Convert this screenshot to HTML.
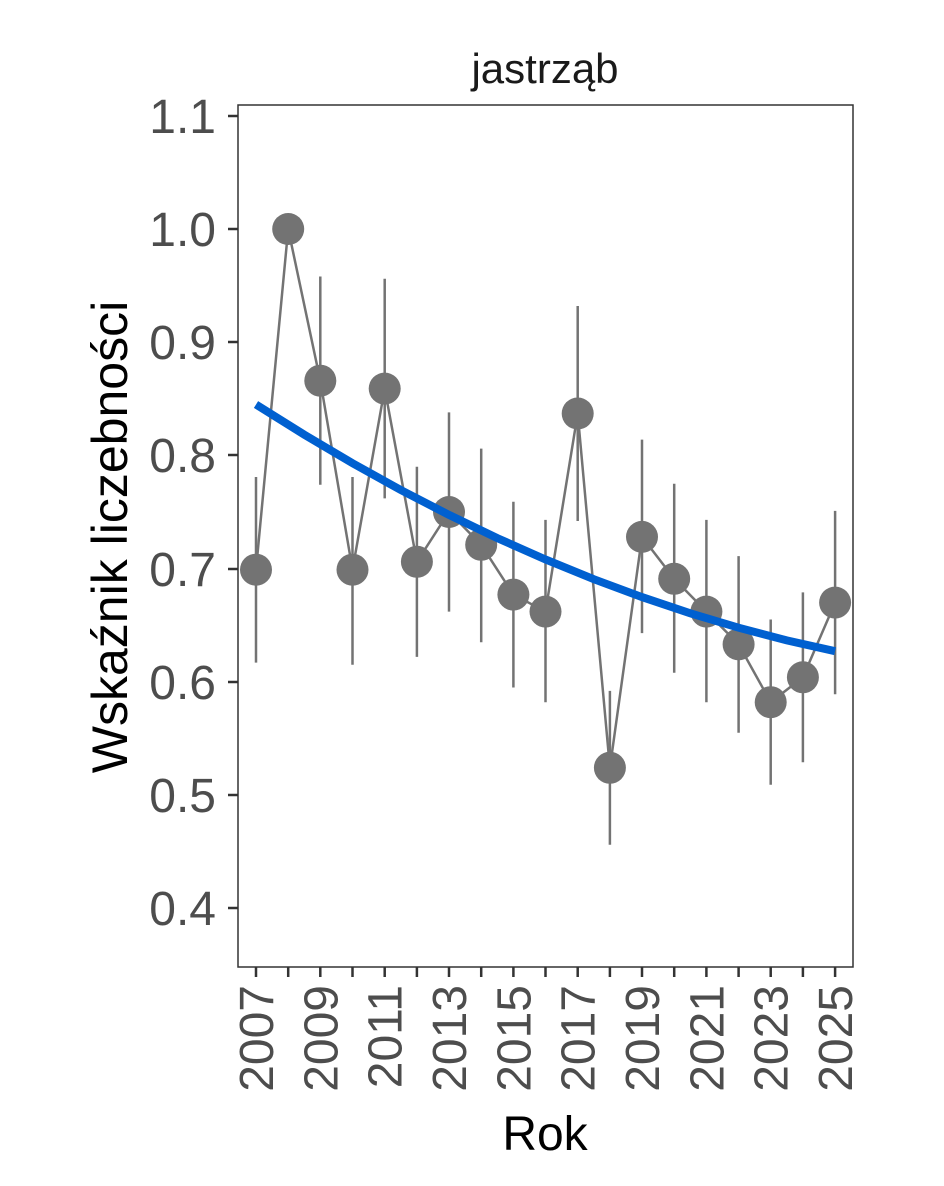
<!DOCTYPE html>
<html><head><meta charset="utf-8"><style>body{margin:0;background:#fff}</style></head><body>
<svg width="944" height="1181" xmlns="http://www.w3.org/2000/svg" font-family="Liberation Sans, Arial, sans-serif">
<rect width="944" height="1181" fill="#fff"/>
<text x="545" y="83" font-size="42" text-anchor="middle" fill="#1a1a1a">jastrząb</text>
<rect x="238" y="105" width="615" height="862" fill="none" stroke="#333" stroke-width="1.5"/>
<g stroke="#333" stroke-width="2.5">
<line x1="228" y1="116" x2="238" y2="116"/><line x1="228" y1="229" x2="238" y2="229"/><line x1="228" y1="342" x2="238" y2="342"/><line x1="228" y1="455" x2="238" y2="455"/><line x1="228" y1="569" x2="238" y2="569"/><line x1="228" y1="682" x2="238" y2="682"/><line x1="228" y1="795" x2="238" y2="795"/><line x1="228" y1="908" x2="238" y2="908"/>
<line x1="256" y1="967" x2="256" y2="977"/><line x1="288.2" y1="967" x2="288.2" y2="977"/><line x1="320.3" y1="967" x2="320.3" y2="977"/><line x1="352.5" y1="967" x2="352.5" y2="977"/><line x1="384.7" y1="967" x2="384.7" y2="977"/><line x1="416.9" y1="967" x2="416.9" y2="977"/><line x1="449" y1="967" x2="449" y2="977"/><line x1="481.2" y1="967" x2="481.2" y2="977"/><line x1="513.4" y1="967" x2="513.4" y2="977"/><line x1="545.5" y1="967" x2="545.5" y2="977"/><line x1="577.7" y1="967" x2="577.7" y2="977"/><line x1="609.9" y1="967" x2="609.9" y2="977"/><line x1="642" y1="967" x2="642" y2="977"/><line x1="674.2" y1="967" x2="674.2" y2="977"/><line x1="706.4" y1="967" x2="706.4" y2="977"/><line x1="738.6" y1="967" x2="738.6" y2="977"/><line x1="770.7" y1="967" x2="770.7" y2="977"/><line x1="802.9" y1="967" x2="802.9" y2="977"/><line x1="835.1" y1="967" x2="835.1" y2="977"/>
</g>
<g font-size="48" fill="#4d4d4d" text-anchor="end">
<text x="216" y="133">1.1</text><text x="216" y="246">1.0</text><text x="216" y="359">0.9</text><text x="216" y="472">0.8</text><text x="216" y="586">0.7</text><text x="216" y="699">0.6</text><text x="216" y="812">0.5</text><text x="216" y="925">0.4</text>
</g>
<g font-size="48" fill="#4d4d4d" text-anchor="end">
<text transform="translate(273,985) rotate(-90)">2007</text>
<text transform="translate(337.3,985) rotate(-90)">2009</text>
<text transform="translate(401.7,985) rotate(-90)">2011</text>
<text transform="translate(466,985) rotate(-90)">2013</text>
<text transform="translate(530.4,985) rotate(-90)">2015</text>
<text transform="translate(594.7,985) rotate(-90)">2017</text>
<text transform="translate(659,985) rotate(-90)">2019</text>
<text transform="translate(723.4,985) rotate(-90)">2021</text>
<text transform="translate(787.7,985) rotate(-90)">2023</text>
<text transform="translate(852.1,985) rotate(-90)">2025</text>
</g>
<text x="545" y="1150" font-size="48" text-anchor="middle" fill="#000">Rok</text>
<text transform="translate(127,537) rotate(-90)" font-size="50" text-anchor="middle" fill="#000">Wskaźnik liczebności</text>
<g stroke="#737373" stroke-width="2.5">
<line x1="256" y1="477" x2="256" y2="662.6"/>
<line x1="320.3" y1="276.5" x2="320.3" y2="484.8"/>
<line x1="352.5" y1="477" x2="352.5" y2="664.8"/>
<line x1="384.7" y1="278.8" x2="384.7" y2="498.4"/>
<line x1="416.9" y1="466.7" x2="416.9" y2="656.9"/>
<line x1="449" y1="412.4" x2="449" y2="611.6"/>
<line x1="481.2" y1="448.6" x2="481.2" y2="642.2"/>
<line x1="513.4" y1="501.8" x2="513.4" y2="687.5"/>
<line x1="545.5" y1="519.9" x2="545.5" y2="702.2"/>
<line x1="577.7" y1="306" x2="577.7" y2="521"/>
<line x1="609.9" y1="690.9" x2="609.9" y2="844.8"/>
<line x1="642" y1="439.6" x2="642" y2="633.1"/>
<line x1="674.2" y1="483.7" x2="674.2" y2="672.7"/>
<line x1="706.4" y1="519.9" x2="706.4" y2="702.2"/>
<line x1="738.6" y1="556.1" x2="738.6" y2="732.7"/>
<line x1="770.7" y1="619.5" x2="770.7" y2="784.8"/>
<line x1="802.9" y1="592.4" x2="802.9" y2="762.2"/>
<line x1="835.1" y1="510.9" x2="835.1" y2="694.3"/>
</g>
<polyline fill="none" stroke="#737373" stroke-width="2.5" points="256,569.7 288.2,229 320.3,380.7 352.5,569.7 384.7,388.6 416.9,561.8 449,512 481.2,544.8 513.4,594.6 545.5,611.6 577.7,413.5 609.9,767.8 642,536.9 674.2,578.8 706.4,611.6 738.6,644.4 770.7,702.2 802.9,677.3 835.1,602.6"/>
<g fill="#737373">
<circle cx="256" cy="569.7" r="16"/><circle cx="288.2" cy="229" r="16"/><circle cx="320.3" cy="380.7" r="16"/><circle cx="352.5" cy="569.7" r="16"/><circle cx="384.7" cy="388.6" r="16"/><circle cx="416.9" cy="561.8" r="16"/><circle cx="449" cy="512" r="16"/><circle cx="481.2" cy="544.8" r="16"/><circle cx="513.4" cy="594.6" r="16"/><circle cx="545.5" cy="611.6" r="16"/><circle cx="577.7" cy="413.5" r="16"/><circle cx="609.9" cy="767.8" r="16"/><circle cx="642" cy="536.9" r="16"/><circle cx="674.2" cy="578.8" r="16"/><circle cx="706.4" cy="611.6" r="16"/><circle cx="738.6" cy="644.4" r="16"/><circle cx="770.7" cy="702.2" r="16"/><circle cx="802.9" cy="677.3" r="16"/><circle cx="835.1" cy="602.6" r="16"/>
</g>
<polyline fill="none" stroke="#0060d0" stroke-width="8" points="256,404.5 304.3,434.7 352.5,463.2 400.8,490 449,514.9 497.3,538.1 545.5,559.5 593.8,579.2 642,597.1 690.3,613.3 738.6,627.7 786.8,640.4 835.1,651.2"/>
</svg>
</body></html>
